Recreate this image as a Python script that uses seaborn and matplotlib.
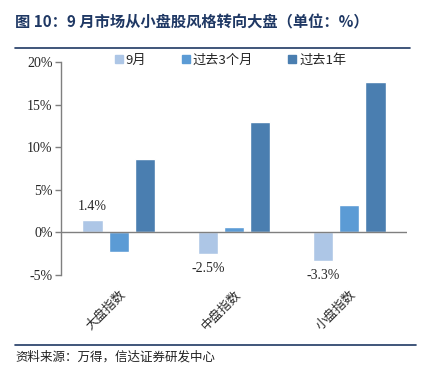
import pandas as pd
import seaborn as sns
import matplotlib.pyplot as plt
from matplotlib.ticker import FuncFormatter
from matplotlib.lines import Line2D

# dados
categorias = ['大盘指数', '中盘指数', '小盘指数']
series = ['9月', '过去3个月', '过去1年']
set_mes = [1.4, -2.5, -3.3]
tres_meses = [-2.3, 0.6, 3.2]
um_ano = [8.6, 13.0, 17.7]
cores = ['#adc6e6', '#5b9bd5', '#4a7eb0']

df = pd.DataFrame({
    'indice': categorias * 3,
    'serie': [s for s in series for _ in categorias],
    'valor': set_mes + tres_meses + um_ano,
})

sns.set_style('white')
plt.rcParams['font.family'] = ['Noto Sans CJK SC', 'DejaVu Sans']
serif = ['Liberation Serif', 'DejaVu Serif']

fig = plt.figure(figsize=(4.3, 3.76), dpi=100)
ax = fig.add_axes([61 / 430, 1 - 275 / 376, 346 / 430, 213 / 376])

sns.barplot(data=df, x='indice', y='valor', hue='serie', hue_order=series,
            palette=cores, width=0.68, gap=0.23, ax=ax, legend=False,
            saturation=1)

ax.set_ylim(-5, 20)
ax.set_yticks([-5, 0, 5, 10, 15, 20])
ax.yaxis.set_major_formatter(FuncFormatter(lambda v, p: f'{v:.0f}%'))
for t in ax.get_yticklabels():
    t.set_fontfamily(serif)
    t.set_fontsize(10)
ax.tick_params(axis='y', length=4, width=1, color='#7f7f7f', direction='out', left=True, pad=2)
ax.tick_params(axis='x', length=0, labelsize=9, pad=9)
ax.set_xticks(range(3))
ax.set_xticklabels(categorias, rotation=45, ha='right', rotation_mode='anchor')
ax.set_xlabel('')
ax.set_ylabel('')
for s in ['top', 'right', 'bottom']:
    ax.spines[s].set_visible(False)
ax.spines['left'].set_color('#7f7f7f')
ax.spines['left'].set_linewidth(1)
ax.axhline(0, color='#7f7f7f', lw=1)

# rótulos só na série de 9月
cont = ax.containers[0]
for rect, v in zip(cont, set_mes):
    x = rect.get_x() + rect.get_width() / 2
    if v >= 0:
        ax.text(x, v + 0.9, f'{v}%', ha='center', va='bottom', fontsize=10, fontfamily=serif)
    else:
        ax.text(x, v - 1.0, f'{v}%', ha='center', va='top', fontsize=10, fontfamily=serif)

handles = [Line2D([], [], marker='s', ls='', color=c, markersize=6) for c in cores]
fig.legend(handles, series, loc='center', bbox_to_anchor=(230 / 430, 1 - 60 / 376), ncol=3,
           frameon=False, fontsize=9.5, handletextpad=0.1, columnspacing=2.6, handlelength=0.8)

# título e linhas
navy = '#1f3864'
fig.text(15 / 430, 1 - 22 / 376, '图 10：9 月市场从小盘股风格转向大盘（单位：%）',
         fontsize=11, fontweight='bold', color=navy, va='center', ha='left')
fig.add_artist(Line2D([15 / 430, 410 / 430], [1 - 48 / 376] * 2, color=navy, lw=1.2))
fig.add_artist(Line2D([15 / 430, 416 / 430], [1 - 345 / 376] * 2, color=navy, lw=1.2))
fig.text(15 / 430, 1 - 357 / 376, '资料来源：万得，信达证券研发中心', fontsize=9,
         style='italic', color='#222222', va='center', ha='left')

fig.savefig('out.png', dpi=100)
